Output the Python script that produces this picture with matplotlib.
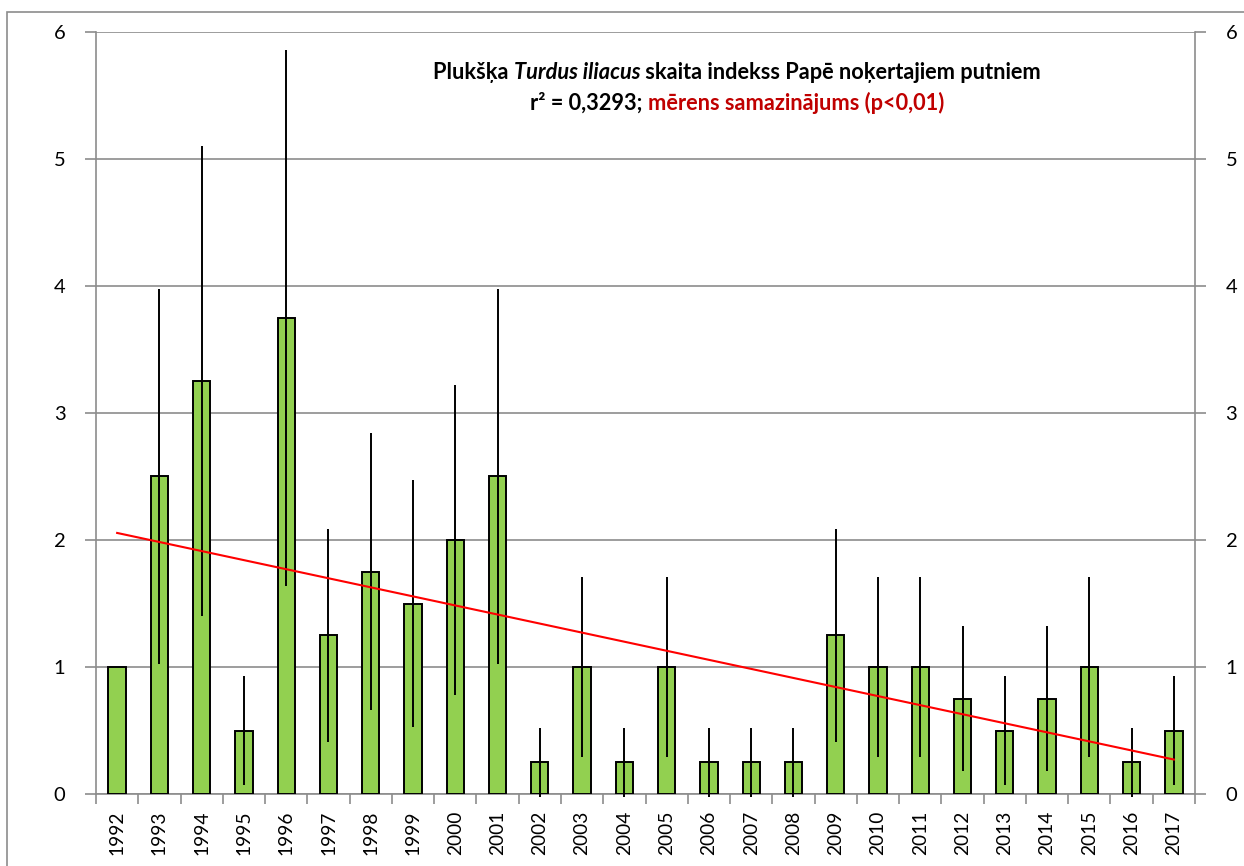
import numpy as np
import matplotlib
matplotlib.use("Agg")
import matplotlib.pyplot as plt
from matplotlib.offsetbox import TextArea, HPacker, VPacker, AnnotationBbox
from matplotlib.patches import Rectangle

years = [str(y) for y in range(1992, 2018)]
index = [1.0, 2.5, 3.25, 0.5, 3.75, 1.25, 1.75, 1.5, 2.0, 2.5,
         0.25, 1.0, 0.25, 1.0, 0.25, 0.25, 0.25, 1.25, 1.0, 1.0,
         0.75, 0.5, 0.75, 1.0, 0.25, 0.5]
err = [0.0, 1.48, 1.85, 0.43, 2.11, 0.84, 1.09, 0.97, 1.22, 1.48,
       0.27, 0.71, 0.27, 0.71, 0.27, 0.27, 0.27, 0.84, 0.71, 0.71,
       0.57, 0.43, 0.57, 0.71, 0.27, 0.43]

plt.rcParams['font.family'] = ['Lato', 'DejaVu Sans']

fig = plt.figure(figsize=(12.44, 8.66), dpi=100)
W, H = 1244, 866
ax = fig.add_axes([96 / W, 72 / H, 1099 / W, 762 / H])

grey = '#8c8c8c'
x = np.arange(len(years))

ax.bar(x, index, width=0.41, color='#92D050', edgecolor='black', linewidth=1.4, zorder=3)
ax.errorbar(x, index, yerr=err, fmt='none', ecolor='black', elinewidth=1.4,
            capsize=0, zorder=4, clip_on=False)

# linear trend
coef = np.polyfit(x, index, 1)
ax.plot([x[0], x[-1]], np.polyval(coef, [x[0], x[-1]]), color='#ff0000', lw=1.5, zorder=5)

ax.set_xlim(-0.5, len(years) - 0.5)
ax.set_ylim(0, 6)
ax.set_yticks(range(7))
ax.yaxis.grid(True, color=grey, lw=1.2, zorder=0)
ax.set_axisbelow(True)

ax.set_xticks(x)
ax.set_xticklabels(years, rotation=90, fontsize=13.8)
ax.set_xticks(np.arange(-0.5, len(years)), minor=True)
ax.tick_params(axis='x', which='major', length=0, pad=12)
ax.tick_params(axis='x', which='minor', length=7, width=1.2, color=grey)
ax.tick_params(axis='y', length=8, width=1.2, color=grey, labelsize=14.5, pad=14,
               right=True, labelright=True)

for s in ['left', 'right', 'bottom']:
    ax.spines[s].set_color(grey)
    ax.spines[s].set_linewidth(1.2)
ax.spines['top'].set_visible(False)

# title with mixed styles
fs = 15.7
def ta(t, **kw):
    props = dict(fontsize=fs, fontweight='bold', color='black')
    props.update(kw)
    return TextArea(t, textprops=props)

line1 = HPacker(children=[ta('Plukšķa '), ta('Turdus iliacus', fontstyle='italic'),
                          ta(' skaita indekss Papē noķertajiem putniem')],
                pad=0, sep=0, align='baseline')
line2 = HPacker(children=[ta('r² = 0,3293; '),
                          ta('mērens samazinājums (p<0,01)', color='#c00000')],
                pad=0, sep=0, align='baseline')
block = VPacker(children=[line1, line2], pad=0, sep=6, align='center')
ab = AnnotationBbox(block, (737 / W, (866 - 88) / H), xycoords='figure fraction',
                    frameon=False, box_alignment=(0.5, 0.5))
fig.add_artist(ab)

# outer frame
fig.add_artist(Rectangle((7 / W, -0.1), 2.0, (866 - 12) / H + 0.1, transform=fig.transFigure,
                         fill=False, edgecolor=grey, lw=1.2))

fig.savefig('out.png', dpi=100)
